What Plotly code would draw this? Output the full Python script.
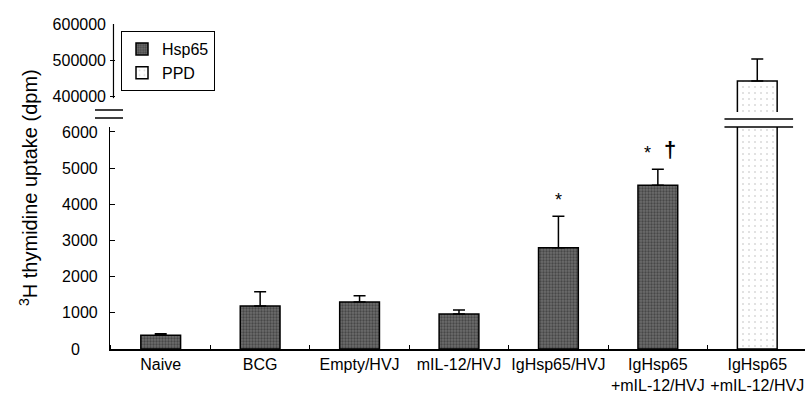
import plotly.graph_objects as go

# ---------------- data ----------------
categories = ["Naive", "BCG", "Empty/HVJ", "mIL-12/HVJ", "IgHsp65/HVJ",
              "IgHsp65<br>+mIL-12/HVJ", "IgHsp65<br>+mIL-12/HVJ"]
x_pos = list(range(len(categories)))
hsp65_values = [380, 1190, 1300, 970, 2800, 4530, None]
hsp65_errors = [40, 390, 170, 110, 870, 440, None]
ppd_values = [None, None, None, None, None, None, 441700]
ppd_errors = [None, None, None, None, None, None, 61000]
lower_ticks = [0, 1000, 2000, 3000, 4000, 5000, 6000]
lower_tick_labels = ["0&nbsp;&nbsp;&nbsp;&nbsp;", "1000", "2000", "3000", "4000", "5000", "6000"]
upper_ticks = [400000, 500000, 600000]
upper_tick_labels = ["400000", "500000", "600000"]
star_groups = [4, 5]
dagger_groups = [5]

FONT = "Liberation Sans, Arial, sans-serif"

# pixel layout helpers
W, H = 810, 396
ML, MR, MT, MB = 110, 5, 24, 47
PH = H - MT - MB  # 325
PW = W - ML - MR
def py(pix):
    return (H - MB - pix) / PH

hsp_marker = dict(color="#5a5a5a", line=dict(color="black", width=1.5),
                  pattern=dict(shape=".", fgcolor="#222222", bgcolor="#6c6c6c",
                               size=3, solidity=0.45))
ppd_marker = dict(color="white", line=dict(color="black", width=1.5),
                  pattern=dict(shape=".", fgcolor="#b5b5b5", bgcolor="white",
                               size=6, solidity=0.1))

fig = go.Figure()

fig.add_trace(go.Bar(
    x=x_pos, y=hsp65_values, name="Hsp65", width=0.4, marker=hsp_marker,
    error_y=dict(type="data", array=hsp65_errors, arrayminus=[0]*7,
                 symmetric=False, color="black", thickness=1.5, width=6),
    yaxis="y", xaxis="x",
))
fig.add_trace(go.Bar(
    x=x_pos, y=ppd_values, name="PPD", width=0.4, marker=ppd_marker,
    yaxis="y", xaxis="x",
))
fig.add_trace(go.Bar(
    x=x_pos, y=ppd_values, name="PPD", width=0.4, showlegend=False, marker=ppd_marker,
    error_y=dict(type="data", array=ppd_errors, arrayminus=[0]*7,
                 symmetric=False, color="black", thickness=1.5, width=6),
    yaxis="y2", xaxis="x",
))

annotations = []
for g in star_groups:
    top = hsp65_values[g] + hsp65_errors[g]
    annotations.append(dict(x=g, y=top, xref="x", yref="y", text="*",
                            showarrow=False, xshift=-10 if g in dagger_groups else 0,
                            yshift=16, font=dict(size=18, family=FONT, color="black")))
for g in dagger_groups:
    top = hsp65_values[g] + hsp65_errors[g]
    annotations.append(dict(x=g, y=top, xref="x", yref="y", text="<b>†</b>",
                            showarrow=False, xshift=12, yshift=20,
                            font=dict(size=22, family=FONT, color="black")))
annotations.append(dict(x=(28 - ML) / PW, y=py(188), xref="paper", yref="paper",
                        xanchor="center", yanchor="middle",
                        text="<sup>3</sup>H thymidine uptake (dpm)", textangle=-90,
                        showarrow=False, font=dict(size=20, family=FONT, color="black")))

shapes = [
    # left axis break marks
    dict(type="line", xref="paper", yref="paper", x0=(95 - ML) / PW, x1=(123 - ML) / PW,
         y0=py(110), y1=py(110), line=dict(color="black", width=1.5)),
    dict(type="line", xref="paper", yref="paper", x0=(95 - ML) / PW, x1=(123 - ML) / PW,
         y0=py(118), y1=py(118), line=dict(color="black", width=1.5)),
    # PPD bar break marks
    dict(type="line", xref="x", yref="paper", x0=6 - 0.33, x1=6 + 0.36,
         y0=py(119), y1=py(119), line=dict(color="black", width=1.5)),
    dict(type="line", xref="x", yref="paper", x0=6 - 0.33, x1=6 + 0.36,
         y0=py(127), y1=py(127), line=dict(color="black", width=1.5)),
    # upper axis line
    dict(type="line", xref="paper", yref="y2", x0=0.005, x1=0.005, y0=394000, y1=600000,
         line=dict(color="black", width=1.2)),
]

fig.update_layout(
    width=W, height=H,
    margin=dict(l=ML, r=MR, t=MT, b=MB),
    paper_bgcolor="white", plot_bgcolor="white",
    barmode="overlay",
    font=dict(family=FONT, color="black"),
    xaxis=dict(range=[-0.51, 6.48], tickvals=x_pos, ticktext=categories,
               ticks="", showline=True, linecolor="black", linewidth=1.5,
               showgrid=False, zeroline=False, automargin=False,
               tickfont=dict(size=16, family=FONT, color="black"),
               minor=dict(tick0=0.5, dtick=1, ticks="inside", ticklen=4,
                          tickcolor="black", tickwidth=1.2, showgrid=False)),
    yaxis=dict(domain=[0, py(127)], range=[0, 6138], tickvals=lower_ticks,
               ticktext=lower_tick_labels,
               ticks="inside", ticklen=5, tickcolor="black", tickwidth=1.2,
               showline=True, linecolor="black", linewidth=1.2, automargin=False,
               showgrid=False, zeroline=False, ticklabelstandoff=8,
               tickfont=dict(size=16, family=FONT, color="black")),
    yaxis2=dict(domain=[py(112), 1], range=[355556, 600000], tickvals=upper_ticks,
                ticktext=upper_tick_labels, automargin=False,
                ticks="inside", ticklen=5, tickcolor="black", tickwidth=1.2,
                showline=False, showgrid=False, zeroline=False, anchor="x",
                ticklabelstandoff=3,
                tickfont=dict(size=16, family=FONT, color="black")),
    legend=dict(x=(121 - ML) / PW, y=py(31), xanchor="left", yanchor="top",
                bordercolor="black", borderwidth=1, bgcolor="white",
                font=dict(size=16, family=FONT, color="black"),
                itemwidth=30, tracegroupgap=0),
    annotations=annotations,
    shapes=shapes,
    showlegend=True,
)

fig.write_html("out.html")
